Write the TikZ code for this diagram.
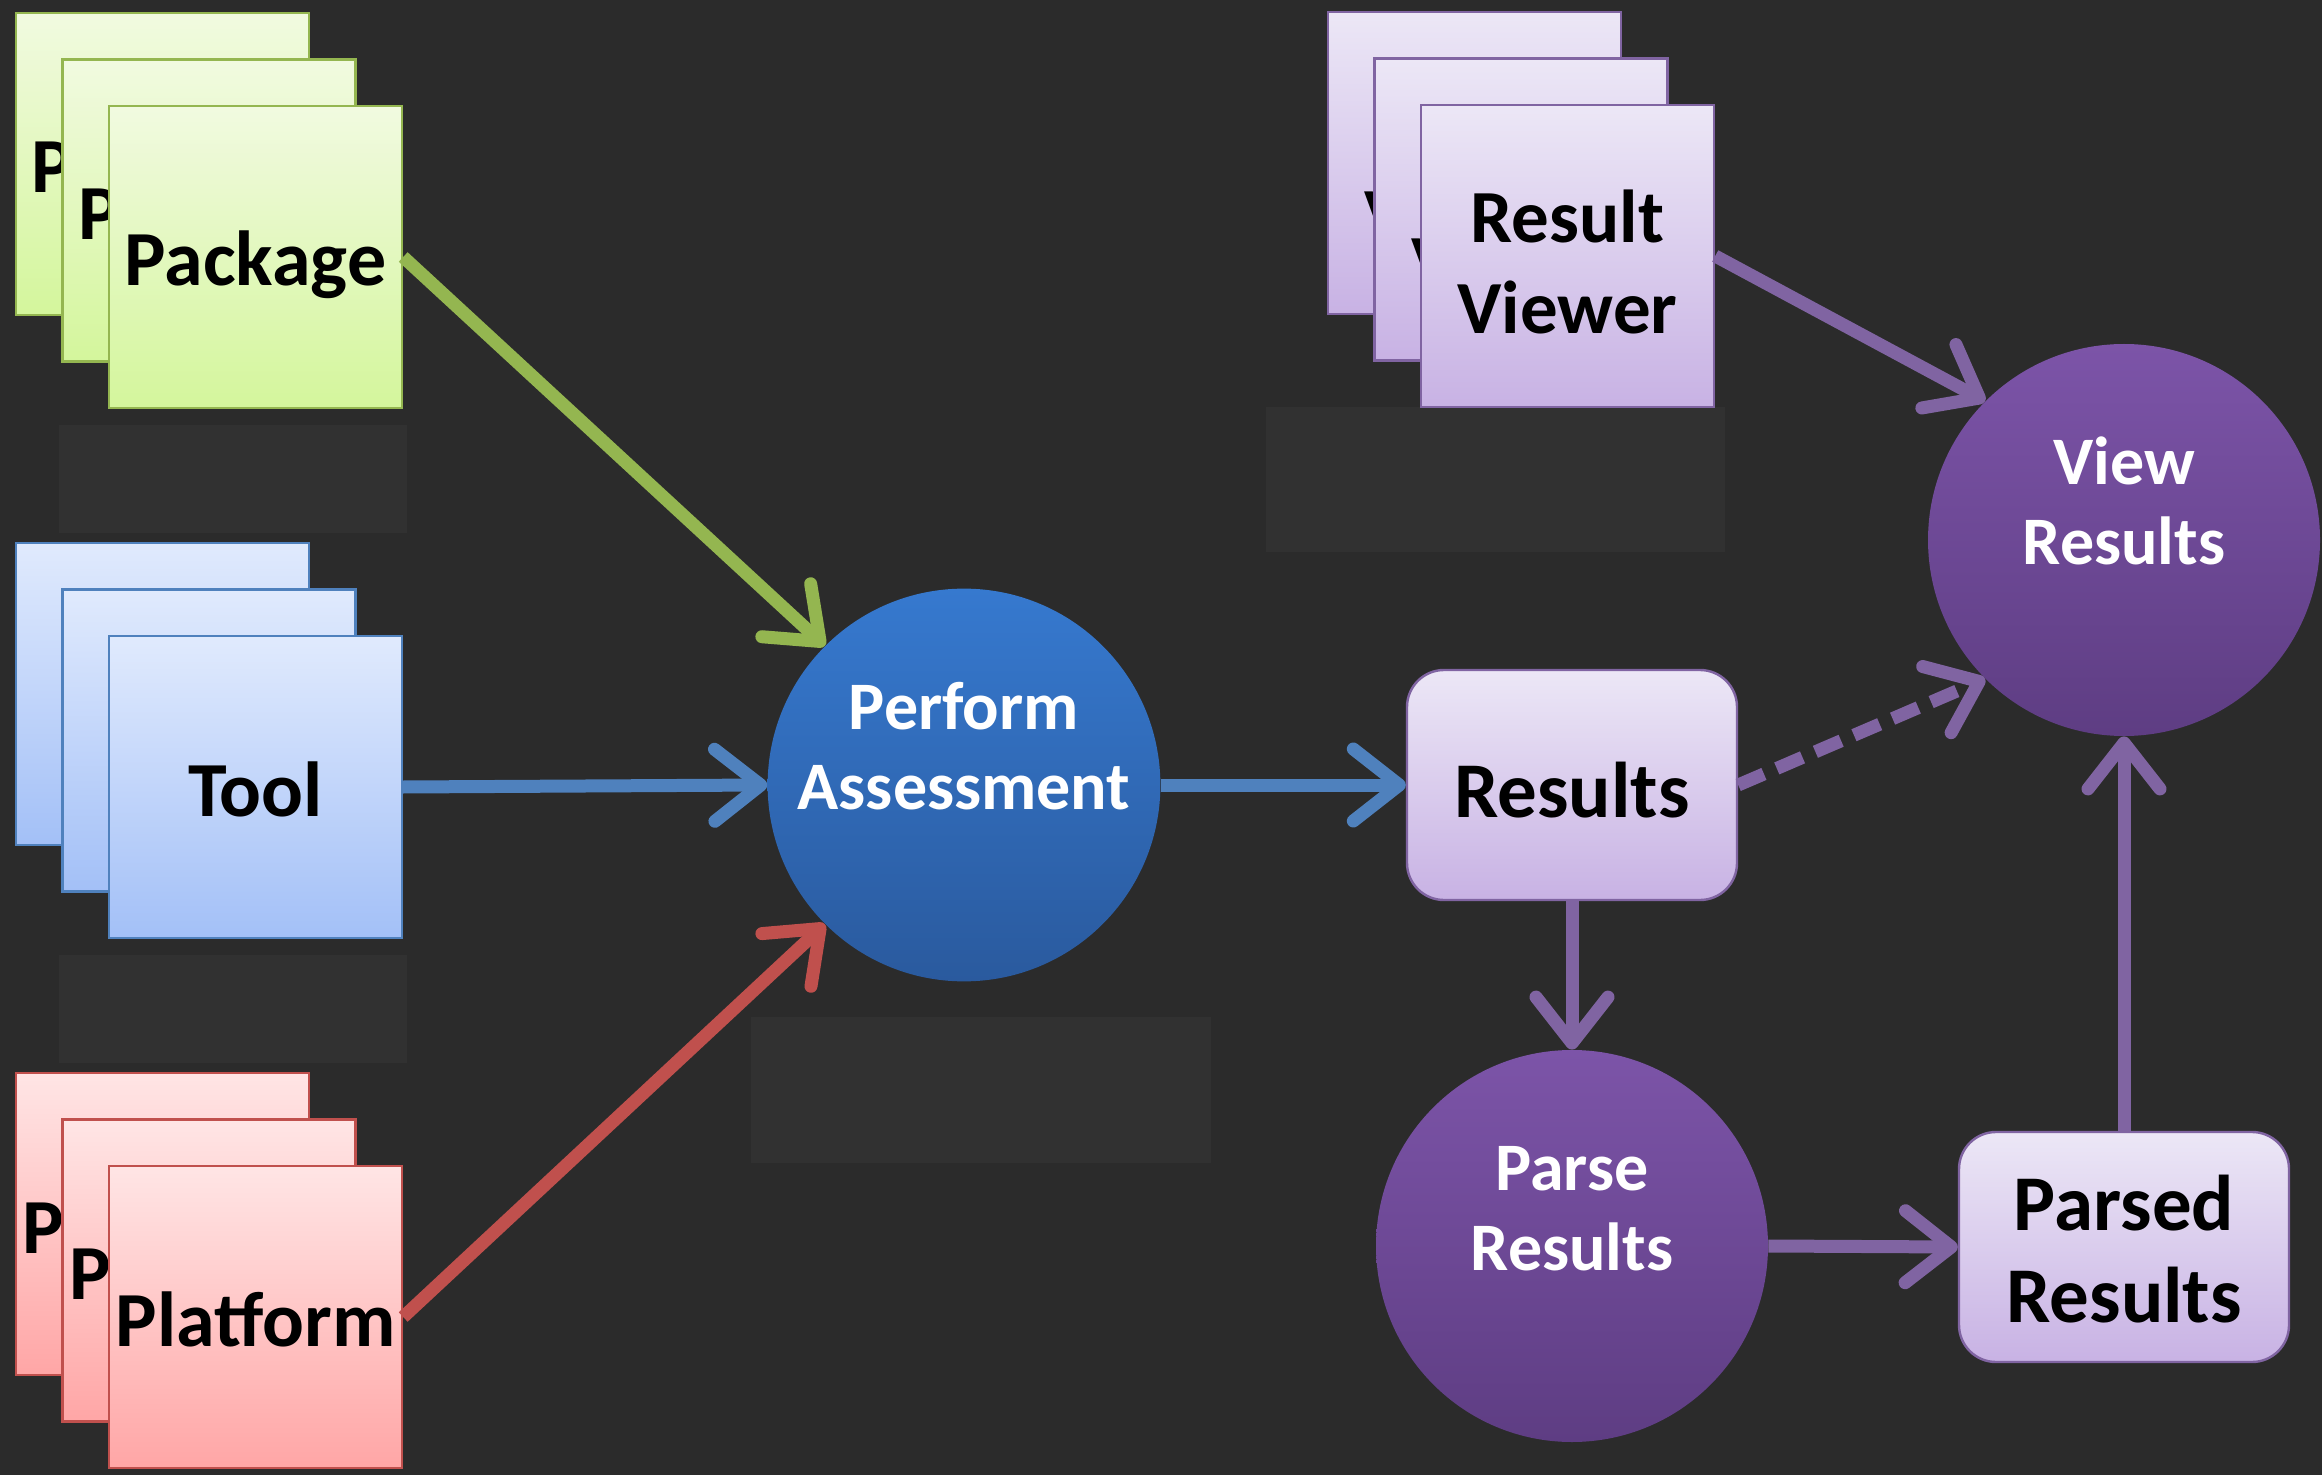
\documentclass[tikz,border=0pt]{standalone}
\usepackage{fontspec}
\setmainfont{Carlito}
\usepackage{tikz}
\usepackage{xcolor}
\usetikzlibrary{arrows.meta}

\definecolor{bgdark}{RGB}{43,43,43}
\definecolor{bgfaint}{RGB}{49,49,49}
\definecolor{pkgline}{RGB}{148,182,80}
\definecolor{pkgtop}{RGB}{241,250,224}
\definecolor{pkgbot}{RGB}{212,246,156}
\definecolor{toolline}{RGB}{79,129,189}
\definecolor{tooltop}{RGB}{224,234,253}
\definecolor{toolbot}{RGB}{163,192,247}
\definecolor{platline}{RGB}{192,80,77}
\definecolor{plattop}{RGB}{255,229,229}
\definecolor{platbot}{RGB}{255,166,166}
\definecolor{resline}{RGB}{128,100,162}
\definecolor{restop}{RGB}{236,231,246}
\definecolor{resbot}{RGB}{200,178,228}
\definecolor{asstop}{RGB}{54,121,207}
\definecolor{assbot}{RGB}{42,90,158}
\definecolor{viewtop}{RGB}{124,84,168}
\definecolor{viewbot}{RGB}{94,61,131}

\tikzset{
    card/.style={rectangle, draw=#1line, line width=1.2pt,
        top color=#1top, bottom color=#1bot,
        minimum width=146.5pt, minimum height=151pt, inner sep=0pt,
        align=center, text=black, font=\bfseries\fontsize{39}{46}\selectfont},
    resbox/.style={rectangle, rounded corners=18.5pt, draw=resline, line width=1.2pt,
        top color=restop, bottom color=resbot,
        minimum width=165pt, minimum height=115pt, inner sep=0pt,
        align=center, text=black, font=\bfseries\fontsize{39.5}{46}\selectfont},
    task/.style={circle, minimum size=196pt, inner sep=0pt,
        top color=#1top, bottom color=#1bot,
        align=center, text=white, font=\bfseries\fontsize{34}{40}\selectfont,
        text height=65pt, text depth=40.5pt},
    flow/.style={draw=#1, line width=6.5pt,
        -{Straight Barb[length=23pt, width=36pt, line cap=round, line join=round]}},
}

\begin{document}
\begin{tikzpicture}
    \useasboundingbox (0pt, 0pt) rectangle (1161pt, -737.5pt);
    \fill[bgdark] (0pt, 0pt) rectangle (1161pt, -737.5pt);

    % faint boxes under the stacks
    \fill[bgfaint] (29.5pt, -212.5pt) rectangle (203.5pt, -266.5pt);
    \fill[bgfaint] (29.5pt, -477.5pt) rectangle (203.5pt, -531.5pt);
    \fill[bgfaint] (375.5pt, -508.5pt) rectangle (605.5pt, -581.5pt);
    \fill[bgfaint] (633pt, -203.5pt) rectangle (862.5pt, -276pt);

    % Stacks
    \node[card=pkg, text height=30pt, text depth=1pt] (pkgc) at (81.25pt, -82pt) {Package};
    \node[card=pkg, text height=30pt, text depth=1pt] (pkgb) at (104.5pt, -105.25pt) {Package};
    \node[card=pkg, text height=30pt, text depth=1pt] (pkg) at (127.75pt, -128.5pt) {Package};

    \node[card=tool, text height=30pt, text depth=1pt] (toolc) at (81.25pt, -347pt) {Tool};
    \node[card=tool, text height=30pt, text depth=1pt] (toolb) at (104.5pt, -370.25pt) {Tool};
    \node[card=tool, text height=30pt, text depth=1pt] (tool) at (127.75pt, -393.5pt) {Tool};

    \node[card=plat, text height=30pt, text depth=1pt] (platc) at (81.25pt, -612pt) {Platform};
    \node[card=plat, text height=30pt, text depth=1pt] (platb) at (104.5pt, -635.25pt) {Platform};
    \node[card=plat, text height=30pt, text depth=1pt] (plat) at (127.75pt, -658.5pt) {Platform};

    \node[card=res, font=\bfseries\fontsize{37.5}{45.5}\selectfont,
        text height=78pt, text depth=0pt] (viewerc) at (737.25pt, -81.5pt) {Result\\Viewer};
    \node[card=res, font=\bfseries\fontsize{37.5}{45.5}\selectfont,
        text height=78pt, text depth=0pt] (viewerb) at (760.5pt, -104.75pt) {Result\\Viewer};
    \node[card=res, font=\bfseries\fontsize{37.5}{45.5}\selectfont,
        text height=78pt, text depth=0pt] (viewer) at (783.75pt, -128pt) {Result\\Viewer};

    % Steps
    \node[task=ass] (perform) at (482pt, -392.5pt) {Perform\\Assessment};
    \node[task=view] (view) at (1062pt, -270pt) {View\\Results};
    \node[task=view] (parse) at (786pt, -623pt) {Parse\\Results};

    \node[resbox, text height=32pt, text depth=0pt] (results) at (786pt, -392.5pt) {Results};
    \node[resbox, text height=75pt, text depth=0pt] (parsed) at (1062pt, -623.5pt) {Parsed\\Results};

    % Lines
    \draw[flow=pkgline] (pkg.east) -- (perform.135);
    \draw[flow=toolline] (tool.east) -- (perform.west);
    \draw[flow=platline] (plat.east) -- (perform.225);
    \draw[flow=toolline] (perform.east) -- (results.west);
    \draw[flow=resline] (viewer.east) -- (view.135);
    \draw[flow=resline, dash pattern=on 14pt off 7pt] (results.east) -- (view.225);
    \draw[flow=resline] (results.south) -- (parse.north);
    \draw[flow=resline] (parse.east) -- (parsed.west);
    \draw[flow=resline] (parsed.north) -- (view.south);

\end{tikzpicture}
\end{document}
